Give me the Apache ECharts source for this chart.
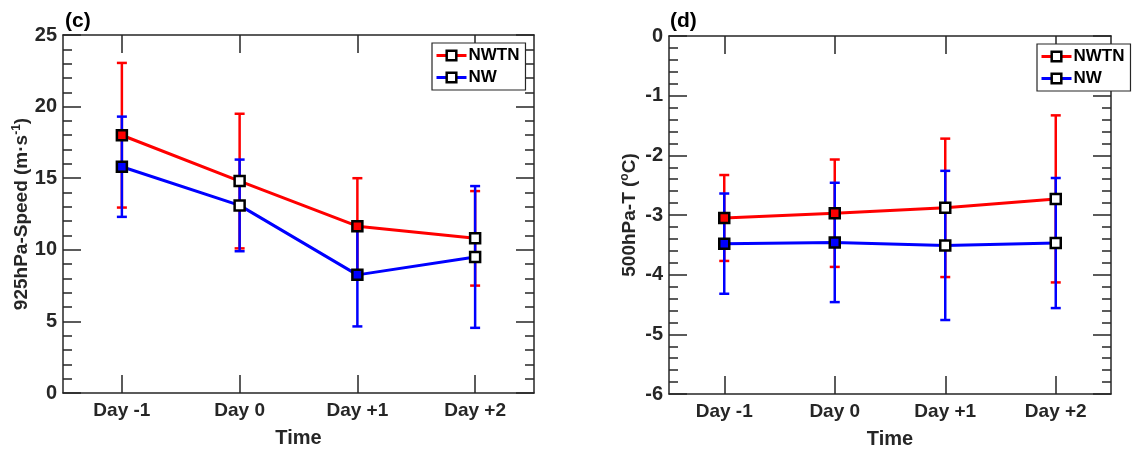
<!DOCTYPE html>
<html>
<head>
<meta charset="utf-8">
<script src="https://cdn.jsdelivr.net/npm/echarts@6/dist/echarts.min.js"></script>
<style>
  html, body { margin: 0; padding: 0; background: #fff; }
  #chart { width: 1141px; height: 449px; }
</style>
</head>
<body>
<div id="chart"></div>
<script>
const categories = ['Day -1', 'Day 0', 'Day +1', 'Day +2'];

// panel (c): 925hPa speed
const speedNWTN = [18.0, 14.8, 11.65, 10.8];
const speedNWTNErr = [5.05, 4.7, 3.35, 3.3];
const speedNW = [15.8, 13.1, 8.25, 9.5];
const speedNWErr = [3.5, 3.2, 3.6, 4.95];
const speedFilled = [true, false, true, false];

// panel (d): 500hPa temperature
const tempNWTN = [-3.05, -2.97, -2.88, -2.73];
const tempNWTNErr = [0.72, 0.9, 1.16, 1.4];
const tempNW = [-3.48, -3.46, -3.51, -3.47];
const tempNWErr = [0.84, 1.0, 1.25, 1.09];
const tempFilled = [true, true, false, false];

const RED = '#ff0000';
const BLUE = '#0000ff';
const INK = '#262626';
const FONT = '"Liberation Sans", Arial, sans-serif';

const chart = echarts.init(document.getElementById('chart'));

// error bar drawn through the axes
function errRender(color) {
  return function (params, api) {
    const i = api.value(0);
    const lo = api.coord([i, api.value(1)]);
    const hi = api.coord([i, api.value(2)]);
    const w = 5;
    const st = { stroke: color, lineWidth: 2.5 };
    return {
      type: 'group',
      children: [
        { type: 'line', shape: { x1: lo[0], y1: lo[1], x2: hi[0], y2: hi[1] }, style: st },
        { type: 'line', shape: { x1: lo[0] - w, y1: lo[1], x2: lo[0] + w, y2: lo[1] }, style: st },
        { type: 'line', shape: { x1: hi[0] - w, y1: hi[1], x2: hi[0] + w, y2: hi[1] }, style: st }
      ]
    };
  };
}

function errSeries(name, means, errs, color, idx) {
  return {
    name: name,
    type: 'custom',
    xAxisIndex: idx * 2,
    yAxisIndex: idx * 2,
    z: 1,
    silent: true,
    renderItem: errRender(color),
    encode: { x: 0, y: [1, 2] },
    data: means.map((m, i) => [i, m - errs[i], m + errs[i]])
  };
}

function lineSeries(name, means, filled, color, idx) {
  return {
    name: name,
    type: 'line',
    xAxisIndex: idx * 2,
    yAxisIndex: idx * 2,
    z: 3,
    symbol: 'rect',
    symbolSize: 10,
    lineStyle: { color: color, width: 3 },
    itemStyle: { color: '#fff', borderColor: '#000', borderWidth: 2.5 },
    data: means.map((m, i) => ({
      value: m,
      itemStyle: { color: filled[i] ? color : '#fff', borderColor: '#000', borderWidth: 2.5 }
    }))
  };
}

const axisLine = { show: true, onZero: false, lineStyle: { color: INK, width: 1.5 } };
const labelStyle = { color: INK, fontSize: 20, fontWeight: 'bold', fontFamily: FONT };
const nameStyle = { color: INK, fontSize: 19, fontWeight: 'bold', fontFamily: FONT };

function xAxes(grid) {
  return [
    {
      type: 'category', gridIndex: grid, data: categories, boundaryGap: true,
      axisLine: axisLine,
      axisTick: { show: true, inside: true, alignWithLabel: true, length: 18, lineStyle: { color: INK, width: 1.5 } },
      axisLabel: Object.assign({ margin: 8 }, labelStyle, { fontSize: 19 }),
      name: 'Time', nameLocation: 'middle', nameGap: 35,
      nameTextStyle: Object.assign({}, nameStyle, { fontSize: 20 }),
      splitLine: { show: false }
    },
    {
      type: 'category', gridIndex: grid, data: categories, boundaryGap: true, position: 'top',
      axisLine: axisLine,
      axisTick: { show: true, inside: true, alignWithLabel: true, length: 18, lineStyle: { color: INK, width: 1.5 } },
      axisLabel: { show: false },
      splitLine: { show: false }
    }
  ];
}

function yAxes(grid, min, max, interval, name, gap) {
  const base = {
    type: 'value', gridIndex: grid, min: min, max: max, interval: interval,
    axisLine: axisLine,
    axisTick: { show: true, inside: true, length: 18, lineStyle: { color: INK, width: 1.5 } },
    minorTick: { show: true, splitNumber: 5, length: 9, lineStyle: { color: INK, width: 1.5 } },
    splitLine: { show: false },
    minorSplitLine: { show: false }
  };
  return [
    Object.assign({}, base, {
      position: 'left',
      axisLabel: Object.assign({ margin: 6 }, labelStyle),
      name: name, nameLocation: 'middle', nameGap: gap,
      nameTextStyle: Object.assign({ rich: supRich }, nameStyle)
    }),
    Object.assign({}, base, { position: 'right', axisLabel: { show: false } })
  ];
}

const supRich = {
  sup: { fontSize: 12, fontWeight: 'bold', fontFamily: FONT, color: INK, verticalAlign: 'top', padding: [0, 0, 9, 0] }
};

function legendAt(left, top) {
  return {
    data: ['NWTN', 'NW'],
    orient: 'vertical',
    left: left, top: top,
    itemWidth: 30, itemHeight: 12, itemGap: 5,
    padding: [4, 6, 4, 3],
    borderColor: INK, borderWidth: 1.2, backgroundColor: '#fff',
    selectedMode: false,
    lineStyle: { width: 3 },
    itemStyle: { borderWidth: 2.5 },
    textStyle: { color: '#000', fontSize: 17, fontWeight: 'bold', fontFamily: FONT, padding: [0, 0, 0, -3] }
  };
}

chart.setOption({
  animation: false,
  backgroundColor: '#fff',
  title: [
    { text: '(c)', left: 60, top: 6, textStyle: { color: '#000', fontSize: 21, fontWeight: 'bold', fontFamily: FONT } },
    { text: '(d)', left: 665, top: 6, textStyle: { color: '#000', fontSize: 21, fontWeight: 'bold', fontFamily: FONT } }
  ],
  legend: [legendAt(432, 43), legendAt(1037, 44)],
  grid: [
    { left: 63, right: 607, top: 35, bottom: 56, outerBoundsMode: 'none' },
    { left: 669, right: 30, top: 36, bottom: 55, outerBoundsMode: 'none' }
  ],
  xAxis: xAxes(0).concat(xAxes(1)),
  yAxis: yAxes(0, 0, 25, 5, '925hPa-Speed (m·s{sup|-1})', 31)
    .concat(yAxes(1, -6, 0, 1, '500hPa-T ({sup|o}C)', 29)),
  series: [
    errSeries('NWTN err', speedNWTN, speedNWTNErr, RED, 0),
    errSeries('NW err', speedNW, speedNWErr, BLUE, 0),
    lineSeries('NWTN', speedNWTN, speedFilled, RED, 0),
    lineSeries('NW', speedNW, speedFilled, BLUE, 0),
    errSeries('NWTN err', tempNWTN, tempNWTNErr, RED, 1),
    errSeries('NW err', tempNW, tempNWErr, BLUE, 1),
    lineSeries('NWTN', tempNWTN, tempFilled, RED, 1),
    lineSeries('NW', tempNW, tempFilled, BLUE, 1)
  ]
});
</script>
</body>
</html>
